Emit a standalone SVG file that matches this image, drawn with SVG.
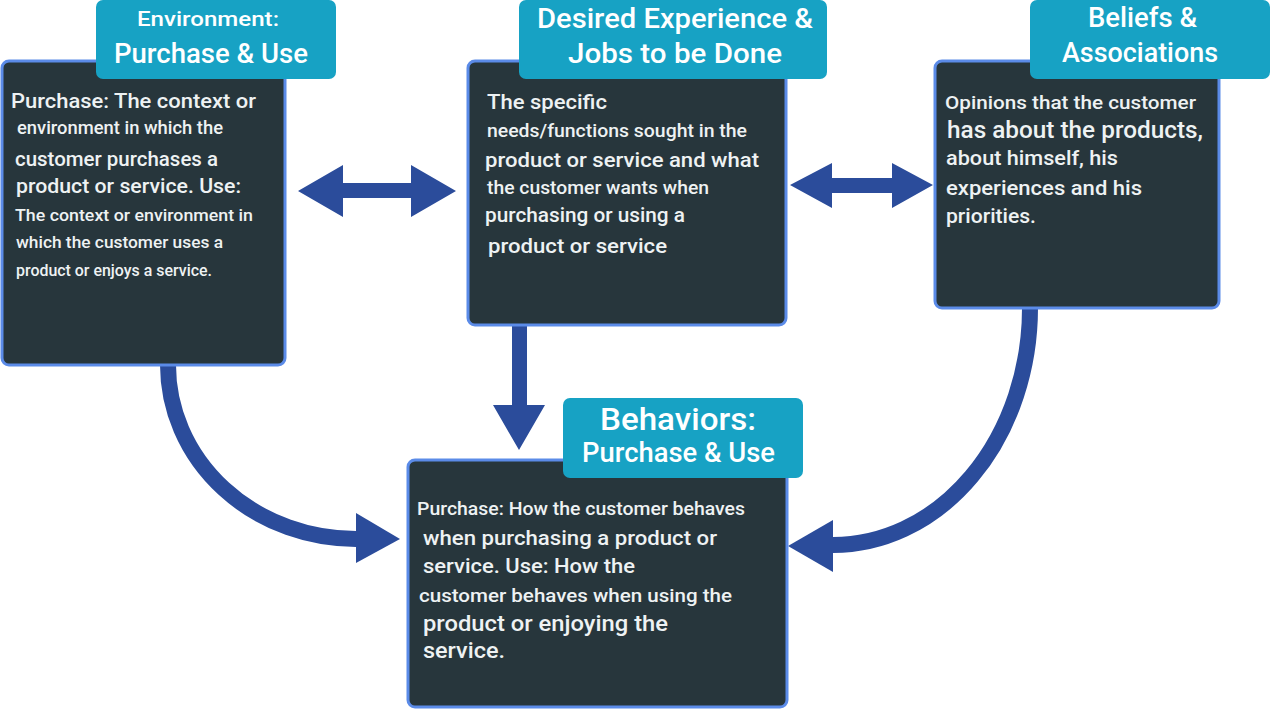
<svg xmlns="http://www.w3.org/2000/svg" width="1271" height="711" viewBox="0 0 1271 711">
<style>
.box{fill:#27363c;stroke:#5b8be8;stroke-width:3}
.lab{fill:#17a2c4}
.t{font-family:Roboto,"Open Sans",sans-serif;fill:#eef2f3;font-weight:500}
.h{font-family:Roboto,"Open Sans",sans-serif;fill:#ffffff;font-weight:500}
.arr{fill:#2b4c9b}
.curve{fill:none;stroke:#2b4c9b;stroke-width:16}
</style>
<rect width="1271" height="711" fill="#ffffff"/>
<g id="connectors">
<polygon class="arr" points="298,191 343,165 343,183 411,183 411,165 456,191 411,217 411,198 343,198 343,217"/>
<polygon class="arr" points="790,185 832,163 832,178 892,178 892,163 933,185 892,208 892,193 832,193 832,208"/>
<polygon class="arr" points="512,325 527,325 527,405 545,405 519,450 493,405 512,405"/>
<path class="curve" d="M168,365 A188 174 0 0 0 358,539"/>
<polygon class="arr" points="356,513 400,539 356,563"/>
<path class="curve" d="M1030,308 A197 237 0 0 1 831,545"/>
<polygon class="arr" points="833,520 788,546 833,572"/>
</g>
<g id="node-environment">
<rect class="box" x="2" y="61" width="283" height="304" rx="7"/>
<rect class="lab" x="96" y="0" width="240" height="79" rx="7"/>
<text class="h" x="137" y="26" font-size="21" textLength="142" lengthAdjust="spacingAndGlyphs">Environment:</text>
<text class="h" x="114" y="63" font-size="27" textLength="194" lengthAdjust="spacingAndGlyphs">Purchase &amp; Use</text>
<text class="t" x="11" y="108" font-size="21" textLength="245" lengthAdjust="spacingAndGlyphs">Purchase: The context or</text>
<text class="t" x="17" y="134" font-size="18" textLength="206" lengthAdjust="spacingAndGlyphs">environment in which the</text>
<text class="t" x="15" y="166" font-size="20" textLength="203" lengthAdjust="spacingAndGlyphs">customer purchases a</text>
<text class="t" x="16" y="193" font-size="21" textLength="225" lengthAdjust="spacingAndGlyphs">product or service. Use:</text>
<text class="t" x="15" y="221" font-size="17" textLength="238" lengthAdjust="spacingAndGlyphs">The context or environment in</text>
<text class="t" x="16" y="248" font-size="17" textLength="207" lengthAdjust="spacingAndGlyphs">which the customer uses a</text>
<text class="t" x="16" y="276" font-size="16" textLength="196" lengthAdjust="spacingAndGlyphs">product or enjoys a service.</text>
</g>
<g id="node-desired">
<rect class="box" x="468" y="61" width="318" height="264" rx="7"/>
<rect class="lab" x="519" y="0" width="308" height="79" rx="7"/>
<text class="h" x="537" y="28" font-size="27" textLength="276" lengthAdjust="spacingAndGlyphs">Desired Experience &amp;</text>
<text class="h" x="568" y="63" font-size="27" textLength="214" lengthAdjust="spacingAndGlyphs">Jobs to be Done</text>
<text class="t" x="487" y="109" font-size="21" textLength="120" lengthAdjust="spacingAndGlyphs">The specific</text>
<text class="t" x="487" y="137" font-size="18" textLength="260" lengthAdjust="spacingAndGlyphs">needs/functions sought in the</text>
<text class="t" x="485" y="167" font-size="21" textLength="274" lengthAdjust="spacingAndGlyphs">product or service and what</text>
<text class="t" x="487" y="194" font-size="18" textLength="222" lengthAdjust="spacingAndGlyphs">the customer wants when</text>
<text class="t" x="485" y="222" font-size="21" textLength="200" lengthAdjust="spacingAndGlyphs">purchasing or using a</text>
<text class="t" x="488" y="253" font-size="21" textLength="179" lengthAdjust="spacingAndGlyphs">product or service</text>
</g>
<g id="node-beliefs">
<rect class="box" x="935" y="61" width="284" height="247" rx="7"/>
<rect class="lab" x="1030" y="0" width="240" height="79" rx="7"/>
<text class="h" x="1088" y="27" font-size="27" textLength="109" lengthAdjust="spacingAndGlyphs">Beliefs &amp;</text>
<text class="h" x="1062" y="62" font-size="27" textLength="156" lengthAdjust="spacingAndGlyphs">Associations</text>
<text class="t" x="945" y="109" font-size="19" textLength="251" lengthAdjust="spacingAndGlyphs">Opinions that the customer</text>
<text class="t" x="947" y="138" font-size="23" textLength="256" lengthAdjust="spacingAndGlyphs">has about the products,</text>
<text class="t" x="946" y="165" font-size="21" textLength="172" lengthAdjust="spacingAndGlyphs">about himself, his</text>
<text class="t" x="946" y="195" font-size="21" textLength="196" lengthAdjust="spacingAndGlyphs">experiences and his</text>
<text class="t" x="946" y="223" font-size="21" textLength="90" lengthAdjust="spacingAndGlyphs">priorities.</text>
</g>
<g id="node-behaviors">
<rect class="box" x="408" y="460" width="379" height="247" rx="7"/>
<rect class="lab" x="563" y="398" width="240" height="80" rx="7"/>
<text class="h" x="600" y="430" font-size="31" textLength="156" lengthAdjust="spacingAndGlyphs">Behaviors:</text>
<text class="h" x="582" y="462" font-size="27" textLength="193" lengthAdjust="spacingAndGlyphs">Purchase &amp; Use</text>
<text class="t" x="417" y="515" font-size="18" textLength="328" lengthAdjust="spacingAndGlyphs">Purchase: How the customer behaves</text>
<text class="t" x="423" y="545" font-size="21" textLength="294" lengthAdjust="spacingAndGlyphs">when purchasing a product or</text>
<text class="t" x="423" y="573" font-size="21" textLength="212" lengthAdjust="spacingAndGlyphs">service. Use: How the</text>
<text class="t" x="419" y="602" font-size="19" textLength="313" lengthAdjust="spacingAndGlyphs">customer behaves when using the</text>
<text class="t" x="423" y="631" font-size="22" textLength="245" lengthAdjust="spacingAndGlyphs">product or enjoying the</text>
<text class="t" x="423" y="658" font-size="22" textLength="82" lengthAdjust="spacingAndGlyphs">service.</text>
</g>
</svg>
